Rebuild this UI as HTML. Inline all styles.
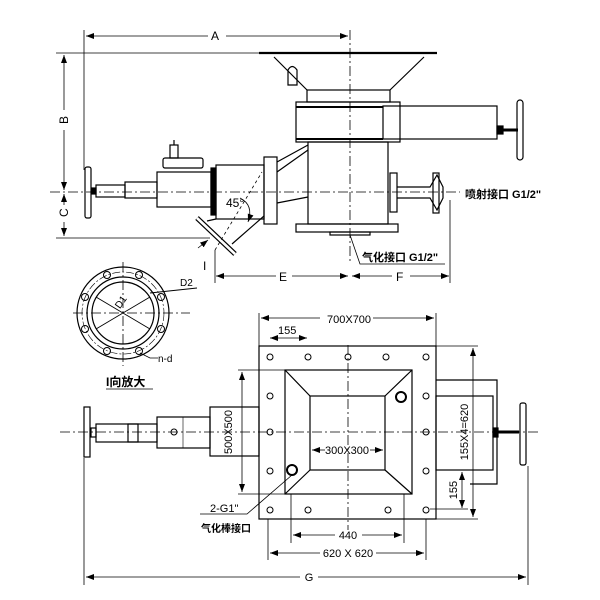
<!DOCTYPE html>
<html><head><meta charset="utf-8"><style>
html,body{margin:0;padding:0;background:#fff}
svg{display:block}
text{font-family:"Liberation Sans","Noto Sans CJK SC",sans-serif;fill:#000}
</style></head><body>
<svg width="600" height="600" viewBox="0 0 600 600" xmlns="http://www.w3.org/2000/svg">
<defs>
<marker id="ar" markerWidth="8" markerHeight="6" refX="8" refY="3" orient="auto-start-reverse" markerUnits="userSpaceOnUse"><path d="M0,0 L8,3 L0,6 z" fill="#000"/></marker>
</defs>
<g stroke="#000" fill="none" stroke-width="1.2">
<!-- ===== TOP VIEW ===== -->
<line x1="50" y1="192" x2="460" y2="192" stroke-dasharray="10,3,2,3" stroke-width="0.8"/>
<line x1="350" y1="30" x2="350" y2="262" stroke-dasharray="10,3,2,3" stroke-width="0.8"/>
<line x1="84" y1="30" x2="84" y2="170" stroke-width="0.8"/>
<line x1="56" y1="53" x2="260" y2="53" stroke-width="0.8"/>
<line x1="56" y1="238" x2="210" y2="238" stroke-width="0.8"/>
<line x1="215" y1="250" x2="215" y2="283" stroke-width="0.8"/>
<line x1="450" y1="200" x2="450" y2="283" stroke-width="0.8"/>
<line x1="86" y1="36" x2="208" y2="36" marker-start="url(#ar)" stroke-width="0.8"/>
<line x1="226" y1="36" x2="348" y2="36" marker-end="url(#ar)" stroke-width="0.8"/>
<line x1="64" y1="55" x2="64" y2="110" marker-start="url(#ar)" stroke-width="0.8"/>
<line x1="64" y1="130" x2="64" y2="190" marker-end="url(#ar)" stroke-width="0.8"/>
<line x1="64" y1="194" x2="64" y2="205" marker-start="url(#ar)" stroke-width="0.8"/>
<line x1="64" y1="222" x2="64" y2="236" marker-end="url(#ar)" stroke-width="0.8"/>
<line x1="216" y1="276" x2="276" y2="276" marker-start="url(#ar)" stroke-width="0.8"/>
<line x1="292" y1="276" x2="348" y2="276" marker-end="url(#ar)" stroke-width="0.8"/>
<line x1="352" y1="276" x2="392" y2="276" marker-start="url(#ar)" stroke-width="0.8"/>
<line x1="410" y1="276" x2="449" y2="276" marker-end="url(#ar)" stroke-width="0.8"/>
<line x1="259" y1="53" x2="437" y2="53" stroke-width="2.2"/>
<path d="M274,57 L307,90 M424,57 L390,90"/>
<path d="M288,85 L288,70 Q292,63 297,70 L297,85 Z"/>
<rect x="307" y="90" width="83" height="12"/>
<rect x="296" y="102" width="104" height="40"/>
<line x1="296" y1="107" x2="383" y2="107" stroke-width="2"/>
<line x1="296" y1="139" x2="383" y2="139" stroke-width="2"/>
<rect x="383" y="106" width="114" height="33"/>
<rect x="497" y="126" width="6" height="8" fill="#000"/>
<line x1="503" y1="130" x2="518" y2="130" stroke-width="3"/>
<rect x="517" y="100" width="6" height="60" rx="3"/>
<rect x="308" y="142" width="80" height="82"/>
<rect x="296" y="224" width="102" height="8"/>
<rect x="330" y="232" width="40" height="3"/>
<rect x="264" y="157" width="13" height="67"/>
<path d="M277,162 L308,145 M277,172 L308,150 M277,203 L308,197"/>
<rect x="390" y="173" width="7" height="39"/>
<path d="M397,187 L430,187 L437,175 L443,187 L443,198 L437,210 L430,198 L397,198"/>
<rect x="433" y="173" width="6" height="40"/>
<rect x="211" y="168" width="5" height="47" fill="#000"/>
<rect x="216" y="165" width="48" height="54"/>
<rect x="157" y="172" width="54" height="35"/>
<rect x="163" y="158" width="40" height="10" rx="2"/>
<rect x="170" y="145" width="8" height="13"/>
<line x1="174" y1="140" x2="174" y2="145"/>
<rect x="125" y="182" width="32" height="16"/>
<rect x="96" y="185" width="29" height="12"/>
<rect x="92" y="188" width="4" height="6" fill="#000"/>
<rect x="85" y="167" width="6" height="51" rx="2"/>
<!-- 45 branch -->
<line x1="197" y1="218" x2="235" y2="254" stroke-width="5"/>
<line x1="197" y1="218" x2="235" y2="254" stroke="#fff" stroke-width="2.6"/>
<path d="M207,221 L216,219 M232,244 L264,216"/>
<line x1="215" y1="250" x2="262" y2="172" stroke-dasharray="3,3" stroke-width="0.8"/>
<path d="M240,198 Q254,205 248,222" stroke-width="0.8" marker-end="url(#ar)"/>
<line x1="198" y1="248" x2="208" y2="240" marker-end="url(#ar)" stroke-width="0.8"/>
<path d="M350,235 L360,264 L445,264" stroke-width="0.8"/>

<!-- ===== FLANGE DETAIL ===== -->
<line x1="73" y1="313" x2="190" y2="313" stroke-dasharray="10,3,2,3" stroke-width="0.8"/>
<line x1="123" y1="262" x2="123" y2="366" stroke-dasharray="10,3,2,3" stroke-width="0.8"/>
<circle cx="123" cy="313" r="46"/>
<circle cx="123" cy="313" r="36"/>
<circle cx="123" cy="313" r="31"/>
<circle cx="123" cy="313" r="41" stroke-dasharray="8,2,2,2" stroke-width="0.6"/>
<g stroke-width="1">
<circle cx="107" cy="275" r="3.5"/><circle cx="139" cy="275" r="3.5"/>
<circle cx="85" cy="297" r="3.5"/><circle cx="161" cy="297" r="3.5"/>
<circle cx="85" cy="329" r="3.5"/><circle cx="161" cy="329" r="3.5"/>
<circle cx="107" cy="351" r="3.5"/><circle cx="139" cy="351" r="3.5"/>
</g>
<line x1="96" y1="329" x2="150" y2="297" stroke-width="0.9"/>
<line x1="96" y1="297" x2="150" y2="329" stroke-width="0.9"/>
<line x1="150" y1="293" x2="197" y2="288" stroke-width="0.9"/>
<path d="M140,353 L150,358 L158,358" stroke-width="0.8"/>
<line x1="106" y1="389" x2="153" y2="389" stroke-width="0.8"/>

<!-- ===== BOTTOM VIEW ===== -->
<line x1="60" y1="432" x2="540" y2="432" stroke-dasharray="10,3,2,3" stroke-width="0.8"/>
<line x1="348" y1="345" x2="348" y2="530" stroke-dasharray="10,3,2,3" stroke-width="0.8"/>
<rect x="259" y="346" width="177" height="173"/>
<rect x="285" y="370" width="127" height="124"/>
<rect x="310" y="396" width="75" height="74"/>
<path d="M285,370 L310,396 M412,370 L385,396 M285,494 L310,470 M412,494 L385,470"/>
<g stroke-width="1">
<circle cx="270" cy="357" r="3"/><circle cx="308" cy="357" r="3"/><circle cx="348" cy="357" r="3"/><circle cx="386" cy="357" r="3"/><circle cx="426" cy="357" r="3"/>
<circle cx="270" cy="396" r="3"/><circle cx="426" cy="396" r="3"/>
<circle cx="270" cy="432" r="3"/><circle cx="426" cy="432" r="3"/>
<circle cx="270" cy="471" r="3"/><circle cx="426" cy="471" r="3"/>
<circle cx="270" cy="510" r="3"/><circle cx="308" cy="510" r="3"/><circle cx="388" cy="510" r="3"/><circle cx="426" cy="510" r="3"/>
</g>
<circle cx="401" cy="397" r="5" stroke-width="2"/>
<circle cx="292" cy="470" r="5" stroke-width="2"/>
<path d="M436,380 L497,380 L497,484 L470,484"/>
<rect x="436" y="396" width="57" height="74"/>
<rect x="493" y="428" width="5" height="9" fill="#000"/>
<line x1="498" y1="432" x2="519" y2="432" stroke-width="3"/>
<rect x="520" y="403" width="6" height="62" rx="2"/>
<rect x="210" y="407" width="49" height="49"/>
<rect x="157" y="417" width="53" height="31"/>
<line x1="183" y1="417" x2="183" y2="448" stroke-width="0.6"/>
<circle cx="174" cy="432" r="3" stroke-width="1"/>
<rect x="128" y="424" width="10" height="18"/>
<rect x="96" y="424" width="61" height="18"/>
<rect x="91" y="428" width="5" height="9"/>
<rect x="84" y="407" width="6" height="50"/>
<line x1="259" y1="313" x2="259" y2="346" stroke-width="0.8"/>
<line x1="436" y1="313" x2="436" y2="346" stroke-width="0.8"/>
<line x1="238" y1="370" x2="285" y2="370" stroke-width="0.8"/>
<line x1="238" y1="494" x2="285" y2="494" stroke-width="0.8"/>
<line x1="436" y1="346" x2="478" y2="346" stroke-width="0.8"/>
<line x1="436" y1="519" x2="478" y2="519" stroke-width="0.8"/>
<line x1="430" y1="509" x2="468" y2="509" stroke-width="0.8"/>
<line x1="291" y1="494" x2="291" y2="543" stroke-width="0.8"/>
<line x1="404" y1="494" x2="404" y2="543" stroke-width="0.8"/>
<line x1="268" y1="519" x2="268" y2="560" stroke-width="0.8"/>
<line x1="426" y1="519" x2="426" y2="560" stroke-width="0.8"/>
<line x1="84" y1="458" x2="84" y2="585" stroke-width="0.8"/>
<line x1="528" y1="466" x2="528" y2="585" stroke-width="0.8"/>
<line x1="261" y1="318" x2="320" y2="318" marker-start="url(#ar)" stroke-width="0.8"/>
<line x1="373" y1="318" x2="434" y2="318" marker-end="url(#ar)" stroke-width="0.8"/>
<line x1="270" y1="338" x2="307" y2="338" marker-start="url(#ar)" marker-end="url(#ar)" stroke-width="0.8"/>
<line x1="242" y1="372" x2="242" y2="492" marker-start="url(#ar)" marker-end="url(#ar)" stroke-width="0.8"/>
<line x1="312" y1="450" x2="325" y2="450" marker-start="url(#ar)" stroke-width="0.8"/>
<line x1="370" y1="450" x2="383" y2="450" marker-end="url(#ar)" stroke-width="0.8"/>
<line x1="473" y1="348" x2="473" y2="517" marker-start="url(#ar)" marker-end="url(#ar)" stroke-width="0.8"/>
<line x1="462" y1="472" x2="462" y2="508" marker-start="url(#ar)" marker-end="url(#ar)" stroke-width="0.8"/>
<line x1="293" y1="535" x2="335" y2="535" marker-start="url(#ar)" stroke-width="0.8"/>
<line x1="362" y1="535" x2="402" y2="535" marker-end="url(#ar)" stroke-width="0.8"/>
<line x1="270" y1="553" x2="320" y2="553" marker-start="url(#ar)" stroke-width="0.8"/>
<line x1="376" y1="553" x2="424" y2="553" marker-end="url(#ar)" stroke-width="0.8"/>
<line x1="86" y1="577" x2="300" y2="577" marker-start="url(#ar)" stroke-width="0.8"/>
<line x1="318" y1="577" x2="526" y2="577" marker-end="url(#ar)" stroke-width="0.8"/>
<path d="M292,475 L247,514 L200,514" stroke-width="0.8"/>
</g>
<g font-size="12">
<text x="211" y="40">A</text>
<text x="60" y="124" transform="rotate(-90 64 120)">B</text>
<text x="60" y="217" transform="rotate(-90 64 213)">C</text>
<text x="226" y="207" font-size="12">45°</text>
<text x="203" y="270">I</text>
<text x="279" y="281">E</text>
<text x="396" y="281">F</text>
<text x="465" y="198" font-size="11" font-weight="bold">喷射接口 G1/2"</text>
<text x="362" y="261" font-size="11" font-weight="bold">气化接口 G1/2"</text>
<text x="180" y="286" font-size="10">D2</text>
<text x="114" y="306" font-size="10" transform="rotate(-55 120 302)">D1</text>
<text x="158" y="362" font-size="10">n-d</text>
<text x="106" y="386" font-size="12" font-weight="bold">I向放大</text>
<text x="327" y="323" font-size="11">700X700</text>
<text x="278" y="334" font-size="11">155</text>
<text x="232" y="432" font-size="11" transform="rotate(-90 232 432)" text-anchor="middle">500X500</text>
<text x="347" y="454" font-size="11" text-anchor="middle">300X300</text>
<text x="468" y="432" font-size="11" transform="rotate(-90 468 432)" text-anchor="middle">155X4=620</text>
<text x="457" y="490" font-size="11" transform="rotate(-90 457 490)" text-anchor="middle">155</text>
<text x="348" y="539" font-size="11" text-anchor="middle">440</text>
<text x="348" y="557" font-size="11" text-anchor="middle">620 X 620</text>
<text x="309" y="581" font-size="11" text-anchor="middle">G</text>
<text x="210" y="512" font-size="11">2-G1"</text>
<text x="201" y="532" font-size="10" font-weight="bold">气化棒接口</text>
</g>
</svg>
</body></html>
